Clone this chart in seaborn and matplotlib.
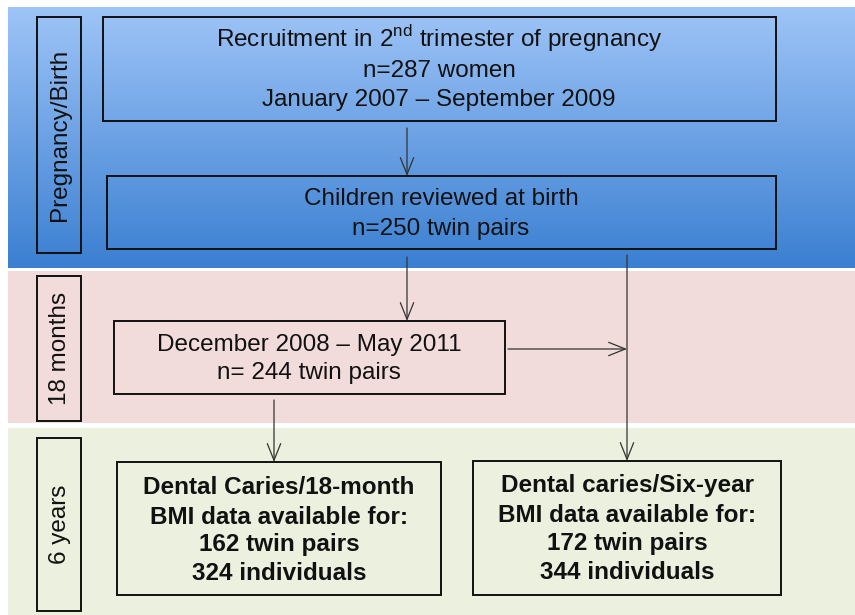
import numpy as np
import matplotlib
matplotlib.use("Agg")
import matplotlib.pyplot as plt
import seaborn as sns
from matplotlib.patches import Rectangle

sns.set_theme(style="white")
plt.rcParams['font.family'] = ['Liberation Sans', 'DejaVu Sans']
plt.rcParams['mathtext.fontset'] = 'custom'
plt.rcParams['mathtext.rm'] = 'Liberation Sans'

# ---- content ----
stage_labels = ["Pregnancy/Birth", "18 months", "6 years"]
box1_lines = [r"Recruitment in 2$^{\mathrm{nd}}$ trimester of pregnancy", "n=287 women",
              "January 2007 \u2013 September 2009"]
box2_lines = ["Children reviewed at birth", "n=250 twin pairs"]
box3_lines = ["December 2008 \u2013 May 2011", "n= 244 twin pairs"]
box5_lines = ["Dental Caries/18-month", "BMI data available for:", "162 twin pairs", "324 individuals"]
box6_lines = ["Dental caries/Six-year", "BMI data available for:", "172 twin pairs", "344 individuals"]

W, H = 855, 615
fig = plt.figure(figsize=(W / 100, H / 100), dpi=100)
ax = fig.add_axes([0, 0, 1, 1])
ax.set_xlim(0, W)
ax.set_ylim(H, 0)
ax.axis("off")

# ---- background bands ----
top = np.array([0.62, 0.77, 0.97])
bot = np.array([0.23, 0.50, 0.82])
t = np.linspace(0, 1, 256)[:, None]
grad = (top[None, :] * (1 - t) + bot[None, :] * t)[:, None, :]
ax.imshow(grad, extent=[8, W, 268, 7], aspect="auto", zorder=0)
ax.add_patch(Rectangle((8, 271), W - 8, 152, facecolor="#F2DCDB", edgecolor="none", zorder=0))
ax.add_patch(Rectangle((8, 428), W - 8, H - 428, facecolor="#EBF1DE", edgecolor="none", zorder=0))

FS = 17.5

def box(x0, y0, x1, y1):
    ax.add_patch(Rectangle((x0, y0), x1 - x0, y1 - y0, facecolor="none",
                           edgecolor="#111111", lw=1.4, zorder=3))

def lines_text(lines, cx, ys, bold=False, size=FS):
    for s, y in zip(lines, ys):
        ax.text(cx, y, s, ha="center", va="baseline", fontsize=size,
                fontweight="bold" if bold else "normal", color="#111111", zorder=4)

# stage label boxes
stage_boxes = [(37, 17, 81, 253), (37, 276, 81, 421), (37, 438, 81, 611)]
for lab, (x0, y0, x1, y1) in zip(stage_labels, stage_boxes):
    box(x0, y0, x1, y1)
    ax.text((x0 + x1) / 2 + 1, (y0 + y1) / 2, lab, rotation=90, ha="center", va="center",
            fontsize=FS, color="#111111", zorder=4)

# main boxes
box(103, 17, 776, 121)
lines_text(box1_lines, 439, [47, 77, 106])
box(107, 176, 776, 249)
lines_text(box2_lines, 441, [205, 235])
box(114, 321, 505, 394)
lines_text(box3_lines, 309, [351, 379])
box(117, 462, 441, 595)
lines_text(box5_lines, 279, [494, 524, 551, 580], bold=True)
box(473, 461, 781, 595)
lines_text(box6_lines, 627, [492, 522, 550, 579], bold=True)

# arrows
ap = dict(arrowstyle="->,head_length=1.0,head_width=0.4", lw=0.9, color="#333333",
          shrinkA=0, shrinkB=0)
def arrow(x0, y0, x1, y1):
    ax.annotate("", xy=(x1, y1), xytext=(x0, y0), arrowprops=ap, zorder=5)

arrow(407, 128, 407, 176)
arrow(407, 257, 407, 321)
arrow(627, 255, 627, 461)
arrow(508, 349, 627, 349)
arrow(274, 400, 274, 462)

fig.savefig("out.png", dpi=100)
